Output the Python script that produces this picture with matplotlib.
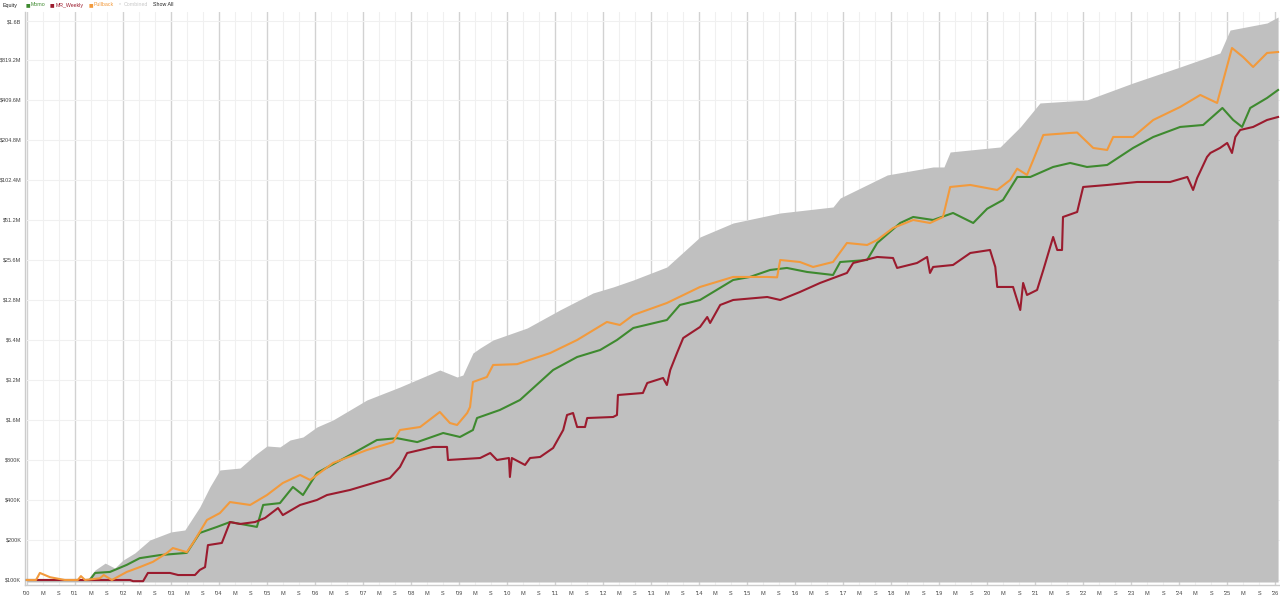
import matplotlib.pyplot as plt
from matplotlib.ticker import FixedLocator, FixedFormatter, NullLocator

plt.rcParams['font.family'] = ['Liberation Sans', 'DejaVu Sans']

# equity curves, time in decimal years, values in $K
combined_t = [2000.0, 2000.69, 2001.27, 2001.42, 2001.63, 2001.83, 2002.0, 2002.25, 2002.56,
              2003.0, 2003.29, 2003.6, 2003.81, 2004.02, 2004.44, 2004.75, 2005.0, 2005.27,
              2005.48, 2005.75, 2006.04, 2006.375, 2007.08, 2007.77, 2008.6, 2008.96, 2009.08,
              2009.29, 2009.44, 2009.71, 2010.42, 2011.1, 2011.79, 2012.21, 2012.63, 2013.33,
              2014.02, 2014.71, 2015.69, 2016.79, 2016.94, 2017.92, 2018.875, 2019.1, 2019.23,
              2020.27, 2020.69, 2021.1, 2022.08, 2023.04, 2024.02, 2024.85, 2025.06, 2025.83,
              2026.06]
combined_k = [100, 100, 102, 119, 134, 123, 141, 160, 200,
              230, 238, 354, 501, 673, 696, 872, 1020, 1003,
              1131, 1192, 1417, 1600, 2263, 2834, 3805, 3370, 3489,
              5107, 5572, 6400, 7880, 10763, 14450, 16040, 18100, 22680,
              38140, 48600, 57800, 64140, 74950, 111700, 128300, 128300, 166300,
              181400, 256600, 388800, 409600, 550000, 725500, 924800, 1376000, 1555000,
              1725000]

momo_t = [2000.0, 2001.31, 2001.42, 2001.73, 2002.08, 2002.35, 2002.77, 2003.33, 2003.6,
          2003.96, 2004.23, 2004.79, 2004.92, 2005.27, 2005.54, 2005.75, 2006.04, 2006.73,
          2007.29, 2007.71, 2008.13, 2008.67, 2009.02, 2009.29, 2009.375, 2009.85, 2010.27,
          2010.96, 2011.46, 2011.94, 2012.29, 2012.63, 2013.33, 2013.6, 2014.02, 2014.71,
          2015.06, 2015.48, 2015.83, 2016.25, 2016.79, 2016.94, 2017.5, 2017.71, 2018.19,
          2018.46, 2018.875, 2019.29, 2019.71, 2020.0, 2020.33, 2020.63, 2020.9, 2021.375,
          2021.73, 2022.08, 2022.5, 2023.04, 2023.46, 2024.02, 2024.5, 2024.9, 2025.125,
          2025.31, 2025.48, 2025.83, 2026.06]
momo_k = [100, 100, 113, 115, 130, 146, 154, 160, 226,
          251, 273, 251, 367, 379, 501, 436, 639, 872,
          1131, 1167, 1091, 1277, 1192, 1345, 1656, 1903, 2263,
          3805, 4766, 5382, 6400, 7880, 9051, 11740, 12800, 18100,
          19080, 21530, 22300, 20800, 19740, 24720, 25600, 34370, 48600,
          53930, 51200, 57800, 48600, 62200, 72400, 107900, 107900, 128300,
          137500, 128300, 132800, 178300, 215700, 256600, 265600, 356600, 289600,
          256600, 356600, 424000, 487100]

mr_t = [2000.0, 2002.15, 2002.21, 2002.42, 2002.52, 2002.98, 2003.15, 2003.5, 2003.6,
        2003.71, 2003.77, 2004.06, 2004.23, 2004.44, 2004.75, 2004.96, 2005.23, 2005.33,
        2005.69, 2006.04, 2006.25, 2006.73, 2007.08, 2007.56, 2007.77, 2007.92, 2008.46,
        2008.75, 2008.77, 2009.44, 2009.65, 2009.79, 2010.04, 2010.06, 2010.1, 2010.375,
        2010.48, 2010.69, 2010.96, 2011.17, 2011.25, 2011.375, 2011.46, 2011.625, 2011.67,
        2012.21, 2012.29, 2012.31, 2012.83, 2012.92, 2013.25, 2013.33, 2013.4, 2013.54,
        2013.67, 2014.02, 2014.17, 2014.23, 2014.44, 2014.71, 2015.42, 2015.69, 2016.1,
        2016.52, 2017.08, 2017.21, 2017.71, 2018.04, 2018.125, 2018.54, 2018.75, 2018.81,
        2018.875, 2019.29, 2019.65, 2020.06, 2020.17, 2020.21, 2020.54, 2020.69, 2020.75,
        2020.83, 2021.04, 2021.17, 2021.375, 2021.46, 2021.56, 2021.58, 2021.875, 2022.0,
        2022.5, 2023.125, 2023.81, 2024.17, 2024.29, 2024.375, 2024.58, 2024.65, 2024.85,
        2025.0, 2025.1, 2025.17, 2025.27, 2025.54, 2025.83, 2026.06]
mr_k = [100, 100, 98, 98, 113, 113, 109, 109, 119,
        125, 183, 190, 273, 264, 273, 293, 348, 308,
        367, 400, 436, 476, 519, 585, 709, 903, 1003,
        1003, 800, 828, 903, 800, 828, 596, 828, 734,
        828, 843, 985, 1345, 1745, 1806, 1417, 1417, 1656,
        1685, 1745, 2467, 2554, 3037, 3314, 2934, 3805, 5107,
        6624, 8018, 9530, 8594, 11740, 12800, 13480, 12800, 14700,
        17190, 20450, 24300, 26970, 26500, 22300, 24300, 26970, 20450,
        22680, 23480, 28900, 30440, 22680, 16040, 16040, 10763, 17190,
        13960, 15220, 21530, 38140, 30440, 30440, 53930, 58810, 90700,
        93900, 98900, 98900, 107900, 86100, 106000, 152600, 163500, 178300,
        194500, 163500, 215700, 243500, 256600, 289600, 305100]

pull_t = [2000.0, 2000.19, 2000.27, 2000.48, 2000.79, 2001.06, 2001.125, 2001.21, 2001.52,
          2001.6, 2001.77, 2002.08, 2002.35, 2002.625, 2002.92, 2003.04, 2003.33, 2003.46,
          2003.75, 2004.02, 2004.23, 2004.65, 2005.0, 2005.33, 2005.69, 2005.9, 2006.375,
          2007.08, 2007.625, 2007.77, 2008.19, 2008.6, 2008.81, 2008.96, 2009.17, 2009.23,
          2009.29, 2009.58, 2009.71, 2010.21, 2010.9, 2011.46, 2012.08, 2012.35, 2012.63,
          2013.33, 2014.02, 2014.71, 2015.42, 2015.625, 2015.69, 2016.1, 2016.375, 2016.79,
          2017.08, 2017.5, 2017.71, 2018.04, 2018.46, 2018.81, 2019.08, 2019.23, 2019.65,
          2020.21, 2020.48, 2020.625, 2020.83, 2020.96, 2021.17, 2021.73, 2021.875, 2022.21,
          2022.5, 2022.625, 2023.04, 2023.46, 2024.02, 2024.44, 2024.79, 2024.92, 2025.1,
          2025.33, 2025.54, 2025.83, 2026.06]
pull_k = [100, 100, 113, 105, 100, 100, 107, 100, 103,
          109, 100, 115, 125, 137, 160, 174, 162, 190,
          283, 319, 386, 367, 436, 537, 617, 566, 759,
          951, 1091, 1345, 1417, 1838, 1519, 1467, 1806, 2004,
          3090, 3370, 4150, 4210, 5107, 6400, 8745, 8300, 9870,
          12150, 16040, 19080, 19080, 18950, 25600, 24720, 22680, 24720,
          34370, 33200, 36200, 44570, 51200, 48600, 53930, 90700, 93900,
          86100, 102400, 124500, 111700, 144800, 223300, 231300, 233000, 178300,
          172200, 215700, 215700, 289600, 362800, 446700, 388800, 579200, 1008000,
          862700, 725500, 924800, 940800]

y_tick_k = [100, 200, 400, 800, 1600, 3200, 6400, 12800, 25600, 51200,
            102400, 204800, 409600, 819200, 1600000]
y_tick_labels = ['$100K', '$200K', '$400K', '$800K', '$1.6M', '$3.2M', '$6.4M', '$12.8M',
                 '$25.6M', '$51.2M', '$102.4M', '$204.8M', '$409.6M', '$819.2M', '$1.6B']
first_year = 2000
last_year = 2026
month_labels = ['M', 'S']

fig = plt.figure(figsize=(12.8, 5.99), dpi=100)
ax = fig.add_axes([25 / 1280, 14 / 599, 1 - 25 / 1280, 573 / 599])
ax.set_yscale('log', base=2)
ax.set_ylim(91.7, 1881000)
ax.set_xlim(1999.96, 2026.1)

# grid
xt, xl = [], []
for yr in range(first_year, last_year + 1):
    ax.axvline(yr, color='#d2d2d2', lw=1.0, zorder=0)
    xt.append(yr)
    xl.append("'%02d" % (yr % 100))
    if yr < last_year:
        for i, m in enumerate(month_labels):
            ax.axvline(yr + (i + 1) * 4 / 12, color='#f0f0f0', lw=0.8, zorder=0)
            xt.append(yr + (i + 1) * 4 / 12)
            xl.append(m)
for v in y_tick_k:
    ax.axhline(v, color='#f0f0f0', lw=0.8, zorder=0)

ax.fill_between(combined_t, 96.6, combined_k, color='#c0c0c0', lw=0, zorder=1)
ax.plot(momo_t, momo_k, color='#3e8a2f', lw=1.5, zorder=3)
ax.plot(mr_t, mr_k, color='#9b1b2e', lw=1.5, zorder=3)
ax.plot(pull_t, pull_k, color='#f29a3c', lw=1.5, zorder=3)

ax.yaxis.set_major_locator(FixedLocator(y_tick_k))
ax.yaxis.set_major_formatter(FixedFormatter(y_tick_labels))
ax.yaxis.set_minor_locator(NullLocator())
ax.set_xticks(xt)
ax.set_xticklabels(xl)
ax.tick_params(axis='both', length=0, labelsize=4, colors='#444444')
ax.tick_params(axis='y', pad=2.5)
ax.tick_params(axis='x', pad=4)
for s in ['top', 'right']:
    ax.spines[s].set_visible(False)
for s in ['left', 'bottom']:
    ax.spines[s].set_color('#cccccc')
    ax.spines[s].set_linewidth(1.0)

# legend row
def px(x, y):
    return x / 1280, 1 - y / 599

fs = 3.8
fig.text(*px(3, 5), 'Equity', fontsize=fs, color='#222222', va='center')
fig.text(*px(26, 5), '■', fontsize=3.5, color='#3e8a2f', va='center', family='DejaVu Sans')
fig.text(*px(31, 5), 'Momo', fontsize=fs, color='#3e8a2f', va='center')
fig.text(*px(50, 5), '■', fontsize=3.5, color='#9b1b2e', va='center', family='DejaVu Sans')
fig.text(*px(56, 5), 'MR_Weekly', fontsize=fs, color='#9b1b2e', va='center')
fig.text(*px(89, 5), '■', fontsize=3.5, color='#f29a3c', va='center', family='DejaVu Sans')
fig.text(*px(94, 5), 'Pullback', fontsize=fs, color='#f29a3c', va='center')
fig.text(*px(119, 5), '*', fontsize=fs, color='#c8c8c8', va='center')
fig.text(*px(124, 5), 'Combined', fontsize=fs, color='#c8c8c8', va='center')
fig.text(*px(153, 5), 'Show All', fontsize=fs, color='#222222', va='center')

fig.savefig('out.png', dpi=100)
